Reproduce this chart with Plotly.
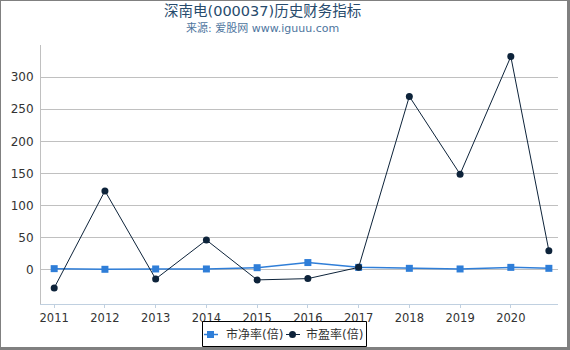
import plotly.graph_objects as go

years = [2011, 2012, 2013, 2014, 2015, 2016, 2017, 2018, 2019, 2020, 2020.75]
pb = [2, 1, 1.5, 1.5, 3.5, 11.5, 4, 2.5, 1.5, 4, 2.5]
pe = [-28, 123, -14, 46.5, -15.5, -13.5, 4, 270, 149, 332, 30]
tick_years = [2011, 2012, 2013, 2014, 2015, 2016, 2017, 2018, 2019, 2020]
y_ticks = [0, 50, 100, 150, 200, 250, 300]
series_names = ["市净率(倍)", "市盈率(倍)"]
pb_color, pe_color = "#2f7ed8", "#0d233a"

W, H = 570, 350
ml, mr, mt, mb = 41, 12, 45, 46
pw, ph = W - ml - mr, H - mt - mb


def px_y(py):
    """pixel row (from top) -> paper y"""
    return (mt + ph - py) / ph


def px_x(px):
    return (px - ml) / pw


fig = go.Figure()
fig.add_trace(go.Scatter(x=years, y=pb, name=series_names[0], mode="lines+markers",
                         line=dict(color=pb_color, width=1.5),
                         marker=dict(symbol="square", size=7, color=pb_color)))
fig.add_trace(go.Scatter(x=years, y=pe, name=series_names[1], mode="lines+markers",
                         line=dict(color=pe_color, width=1),
                         marker=dict(symbol="circle", size=7, color=pe_color)))

font = "DejaVu Sans, Noto Sans CJK SC, sans-serif"
annotations = [
    dict(text="深南电(000037)历史财务指标", xref="paper", yref="paper",
         x=px_x(262), y=px_y(11), xanchor="center", yanchor="middle", showarrow=False,
         font=dict(size=14.5, color="#274b6d", family=font)),
    dict(text="来源: 爱股网 www.iguuu.com", xref="paper", yref="paper",
         x=px_x(262), y=px_y(28), xanchor="center", yanchor="middle", showarrow=False,
         font=dict(size=11, color="#4d759e", family=font)),
]

shapes = []
# manual legend
shapes.append(dict(type="rect", xref="paper", yref="paper",
                   x0=px_x(202.5), x1=px_x(366.5), y0=px_y(346.5), y1=px_y(321.5),
                   line=dict(color="black", width=1), fillcolor="white"))
ly = 334.5
legend_items = [(204, 218, 210.5, "square", pb_color, 224, series_names[0], 1.5),
                (286, 300, 292.5, "circle", pe_color, 304, series_names[1], 1)]
for x0, x1, xc, sym, col, tx, name, lw in legend_items:
    shapes.append(dict(type="line", xref="paper", yref="paper",
                       x0=px_x(x0), x1=px_x(x1), y0=px_y(ly), y1=px_y(ly),
                       line=dict(color=col, width=lw)))
    stype = "rect" if sym == "square" else "circle"
    shapes.append(dict(type=stype, xref="paper", yref="paper",
                       x0=px_x(xc - 3.5), x1=px_x(xc + 3.5), y0=px_y(ly + 3.5), y1=px_y(ly - 3.5),
                       line=dict(color=col, width=0), fillcolor=col))
    annotations.append(dict(text=name, xref="paper", yref="paper", x=px_x(tx), y=px_y(ly),
                            xanchor="left", yanchor="middle", showarrow=False,
                            font=dict(size=12, color="#333333", family=font)))

# outer grey frame of the picture
shapes += [
    dict(type="line", xref="paper", yref="paper", x0=px_x(0.5), x1=px_x(0.5),
         y0=px_y(0), y1=px_y(H), line=dict(color="#808080", width=1)),
    dict(type="line", xref="paper", yref="paper", x0=px_x(0), x1=px_x(W),
         y0=px_y(0.5), y1=px_y(0.5), line=dict(color="#808080", width=1)),
    dict(type="line", xref="paper", yref="paper", x0=px_x(W - 1.5), x1=px_x(W - 1.5),
         y0=px_y(0), y1=px_y(H), line=dict(color="#808080", width=3)),
    dict(type="line", xref="paper", yref="paper", x0=px_x(0), x1=px_x(W),
         y0=px_y(H - 1.5), y1=px_y(H - 1.5), line=dict(color="#808080", width=3)),
]

fig.update_layout(
    width=W, height=H,
    margin=dict(l=ml, r=mr, t=mt, b=mb, autoexpand=False),
    paper_bgcolor="white", plot_bgcolor="white",
    font=dict(family=font, size=12, color="#333333"),
    showlegend=False,
    xaxis=dict(range=[2010.74, 2020.93], tickmode="array", tickvals=tick_years,
               ticktext=[str(t) for t in tick_years], showgrid=False, zeroline=False,
               showline=True, linecolor="#c0d0e0", ticks="outside", tickcolor="#c0d0e0",
               ticklen=3, tickfont=dict(size=11.5, color="#333333")),
    yaxis=dict(range=[-53, 350], tickmode="array", tickvals=y_ticks,
               showgrid=True, gridcolor="#c0c0c0", gridwidth=1, zeroline=False,
               showline=True, linecolor="#c0c0c0", ticks="", ticklabelstandoff=4,
               tickfont=dict(size=12, color="#333333")),
    annotations=annotations,
    shapes=shapes,
)

fig.write_html("out.html")
